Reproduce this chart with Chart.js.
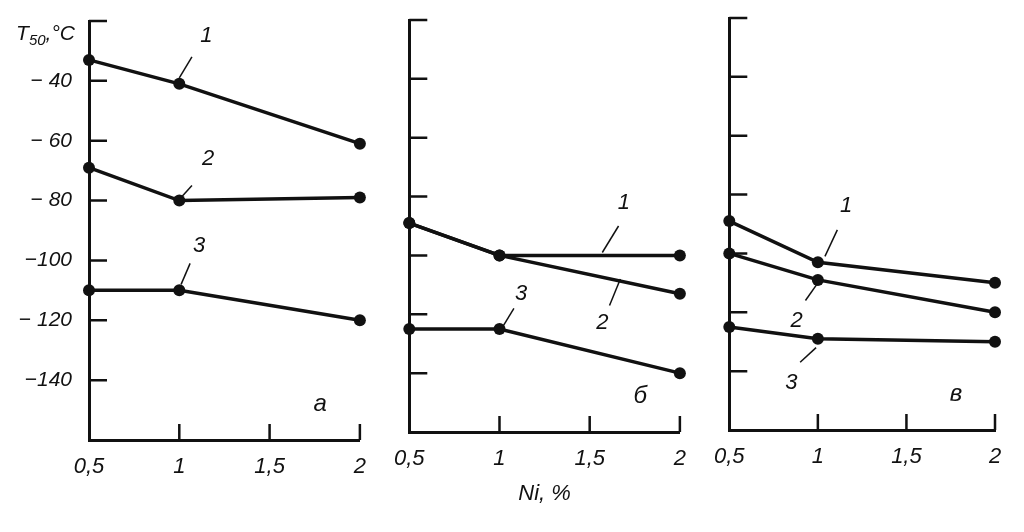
<!DOCTYPE html>
<html>
<head>
<meta charset="utf-8">
<script src="https://cdn.jsdelivr.net/npm/chart.js@4.4.0/dist/chart.umd.min.js"></script>
<style>
    html, body { margin: 0; background: #fff; }
    .panel { position: absolute; top: 0; height: 532px; }
</style>
</head>
<body>
<div class="panel" style="left:0;width:380px"><canvas id="chartA"></canvas></div>
<div class="panel" style="left:380px;width:320px"><canvas id="chartB"></canvas></div>
<div class="panel" style="left:700px;width:324px"><canvas id="chartC"></canvas></div>
<script>
// Ni content, %
const nickel = [0.5, 1, 2];
const xTickValues = [0.5, 1, 1.5, 2];
const xTickLabels = ['0,5', '1', '1,5', '2'];
const yTickValues = [-160, -140, -120, -100, -80, -60, -40, -20];
const yTickLabels = ['', '−140', '− 120', '−100', '− 80', '− 60', '− 40', ''];

// T50, °C  (panel а)
const panelA1 = [-33, -41, -61];
const panelA2 = [-69, -80, -79];
const panelA3 = [-110, -110, -120];
// panel б
const panelB1 = [-89, -100, -100];
const panelB2 = [-89, -100, -113];
const panelB3 = [-125, -125, -140];
// panel в
const panelC1 = [-89, -103, -110];
const panelC2 = [-100, -109, -120];
const panelC3 = [-125, -129, -130];

// curve numbers with leader lines, in data units
const notesA = [
    { text: '1', at: [1.15, -25], from: [1.07, -32], to: [1.0, -39] },
    { text: '2', at: [1.16, -66], from: [1.07, -75], to: [1.01, -79] },
    { text: '3', at: [1.11, -95], from: [1.06, -101], to: [1.01, -108] }
];
const notesB = [
    { text: '1', at: [1.69, -82], from: [1.66, -90], to: [1.57, -99] },
    { text: '2', at: [1.57, -123], from: [1.61, -117], to: [1.67, -108] },
    { text: '3', at: [1.12, -113], from: [1.08, -118], to: [1.02, -124] }
];
const notesC = [
    { text: '1', at: [1.16, -84], from: [1.11, -92], to: [1.04, -101] },
    { text: '2', at: [0.88, -123], from: [0.93, -116], to: [1.0, -110] },
    { text: '3', at: [0.85, -144], from: [0.9, -137], to: [0.99, -132] }
];

const ink = '#111';
const face = '"Liberation Sans", Arial, sans-serif';

const decor = {
    id: 'decor',
    afterDraw(chart, args, opts) {
        const { ctx, chartArea: a, scales: { x, y } } = chart;
        ctx.save();
        ctx.strokeStyle = ink;
        ctx.fillStyle = ink;
        ctx.lineCap = 'butt';

        // inward tick marks
        ctx.lineWidth = 2.5;
        ctx.beginPath();
        yTickValues.forEach(v => {
            if (v === yTickValues[0]) return;
            const py = y.getPixelForValue(v);
            ctx.moveTo(a.left, py);
            ctx.lineTo(a.left + 18, py);
        });
        xTickValues.forEach(v => {
            if (v === xTickValues[0]) return;
            const px = x.getPixelForValue(v);
            ctx.moveTo(px, a.bottom);
            ctx.lineTo(px, a.bottom - 16);
        });
        ctx.stroke();

        // curve numbers
        ctx.lineWidth = 1.5;
        ctx.font = 'italic 22px ' + face;
        ctx.textAlign = 'center';
        ctx.textBaseline = 'middle';
        opts.notes.forEach(n => {
            ctx.beginPath();
            ctx.moveTo(x.getPixelForValue(n.from[0]), y.getPixelForValue(n.from[1]));
            ctx.lineTo(x.getPixelForValue(n.to[0]), y.getPixelForValue(n.to[1]));
            ctx.stroke();
            ctx.fillText(n.text, x.getPixelForValue(n.at[0]), y.getPixelForValue(n.at[1]));
        });

        // panel letter
        ctx.font = 'italic 24px ' + face;
        ctx.fillText(opts.letter, x.getPixelForValue(1.78), y.getPixelForValue(-148));

        // axis title T50, °C
        if (opts.yTitle) {
            const base = a.top + 19;
            const end = a.left - 14;
            ctx.textAlign = 'left';
            ctx.textBaseline = 'alphabetic';
            const big = 'italic 21px ' + face, small = 'italic 15px ' + face;
            ctx.font = big; const wT = ctx.measureText('T').width;
            ctx.font = small; const w50 = ctx.measureText('50').width;
            ctx.font = big; const wC = ctx.measureText(',°C').width;
            let px = end - (wT + w50 + wC);
            ctx.font = big; ctx.fillText('T', px, base); px += wT;
            ctx.font = small; ctx.fillText('50', px, base + 5); px += w50;
            ctx.font = big; ctx.fillText(',°C', px, base);
        }
        ctx.restore();
    }
};

function makePanel(id, series, notes, letter, geom) {
    const ctx = document.getElementById(id).getContext('2d');
    return new Chart(ctx, {
        type: 'line',
        data: {
            datasets: series.map(s => ({
                data: nickel.map((v, i) => ({ x: v, y: s[i] })),
                borderColor: ink,
                backgroundColor: ink,
                borderWidth: 3.5,
                pointRadius: 6,
                pointHoverRadius: 6,
                pointBackgroundColor: ink,
                pointBorderWidth: 0,
                tension: 0,
                clip: false
            }))
        },
        options: {
            responsive: true,
            maintainAspectRatio: false,
            animation: false,
            events: [],
            layout: { padding: geom.padding },
            plugins: {
                legend: { display: false },
                tooltip: { enabled: false },
                decor: { notes: notes, letter: letter, yTitle: geom.yTitle }
            },
            scales: {
                x: {
                    type: 'linear',
                    min: 0.5,
                    max: 2,
                    afterBuildTicks: scale => { scale.ticks = xTickValues.map(v => ({ value: v })); },
                    afterFit: scale => { scale.height = geom.xHeight; },
                    grid: { drawOnChartArea: false, drawTicks: false },
                    border: { color: ink, width: 3 },
                    ticks: {
                        padding: 14,
                        color: ink,
                        font: { family: face, size: 22, style: 'italic' },
                        callback: v => xTickLabels[xTickValues.indexOf(v)]
                    },
                    title: {
                        display: geom.xTitle,
                        text: 'Ni, %',
                        color: ink,
                        padding: { top: 0, bottom: 2 },
                        font: { family: face, size: 22, style: 'italic' }
                    }
                },
                y: {
                    type: 'linear',
                    min: -160,
                    max: -20,
                    afterBuildTicks: scale => { scale.ticks = yTickValues.map(v => ({ value: v })); },
                    afterFit: scale => {
                        scale.width = geom.yWidth;
                        scale.paddingTop = 0;
                        scale.paddingBottom = 0;
                    },
                    grid: { drawOnChartArea: false, drawTicks: false },
                    border: { color: ink, width: 3 },
                    ticks: {
                        display: geom.yLabels,
                        padding: 17,
                        color: ink,
                        font: { family: face, size: 21, style: 'italic' },
                        callback: v => yTickLabels[yTickValues.indexOf(v)]
                    }
                }
            }
        },
        plugins: [decor]
    });
}

makePanel('chartA', [panelA1, panelA2, panelA3], notesA, 'а', {
    padding: { left: 0, right: 17, top: 21, bottom: 30 },
    xHeight: 62, yWidth: 89, yLabels: true, yTitle: true, xTitle: false
});
makePanel('chartB', [panelB1, panelB2, panelB3], notesB, 'б', {
    padding: { left: 0, right: 20, top: 20, bottom: 23 },
    xHeight: 77, yWidth: 28, yLabels: false, yTitle: false, xTitle: true
});
makePanel('chartC', [panelC1, panelC2, panelC3], notesC, 'в', {
    padding: { left: 0, right: 29, top: 18, bottom: 40 },
    xHeight: 62, yWidth: 24, yLabels: false, yTitle: false, xTitle: false
});
</script>
</body>
</html>
